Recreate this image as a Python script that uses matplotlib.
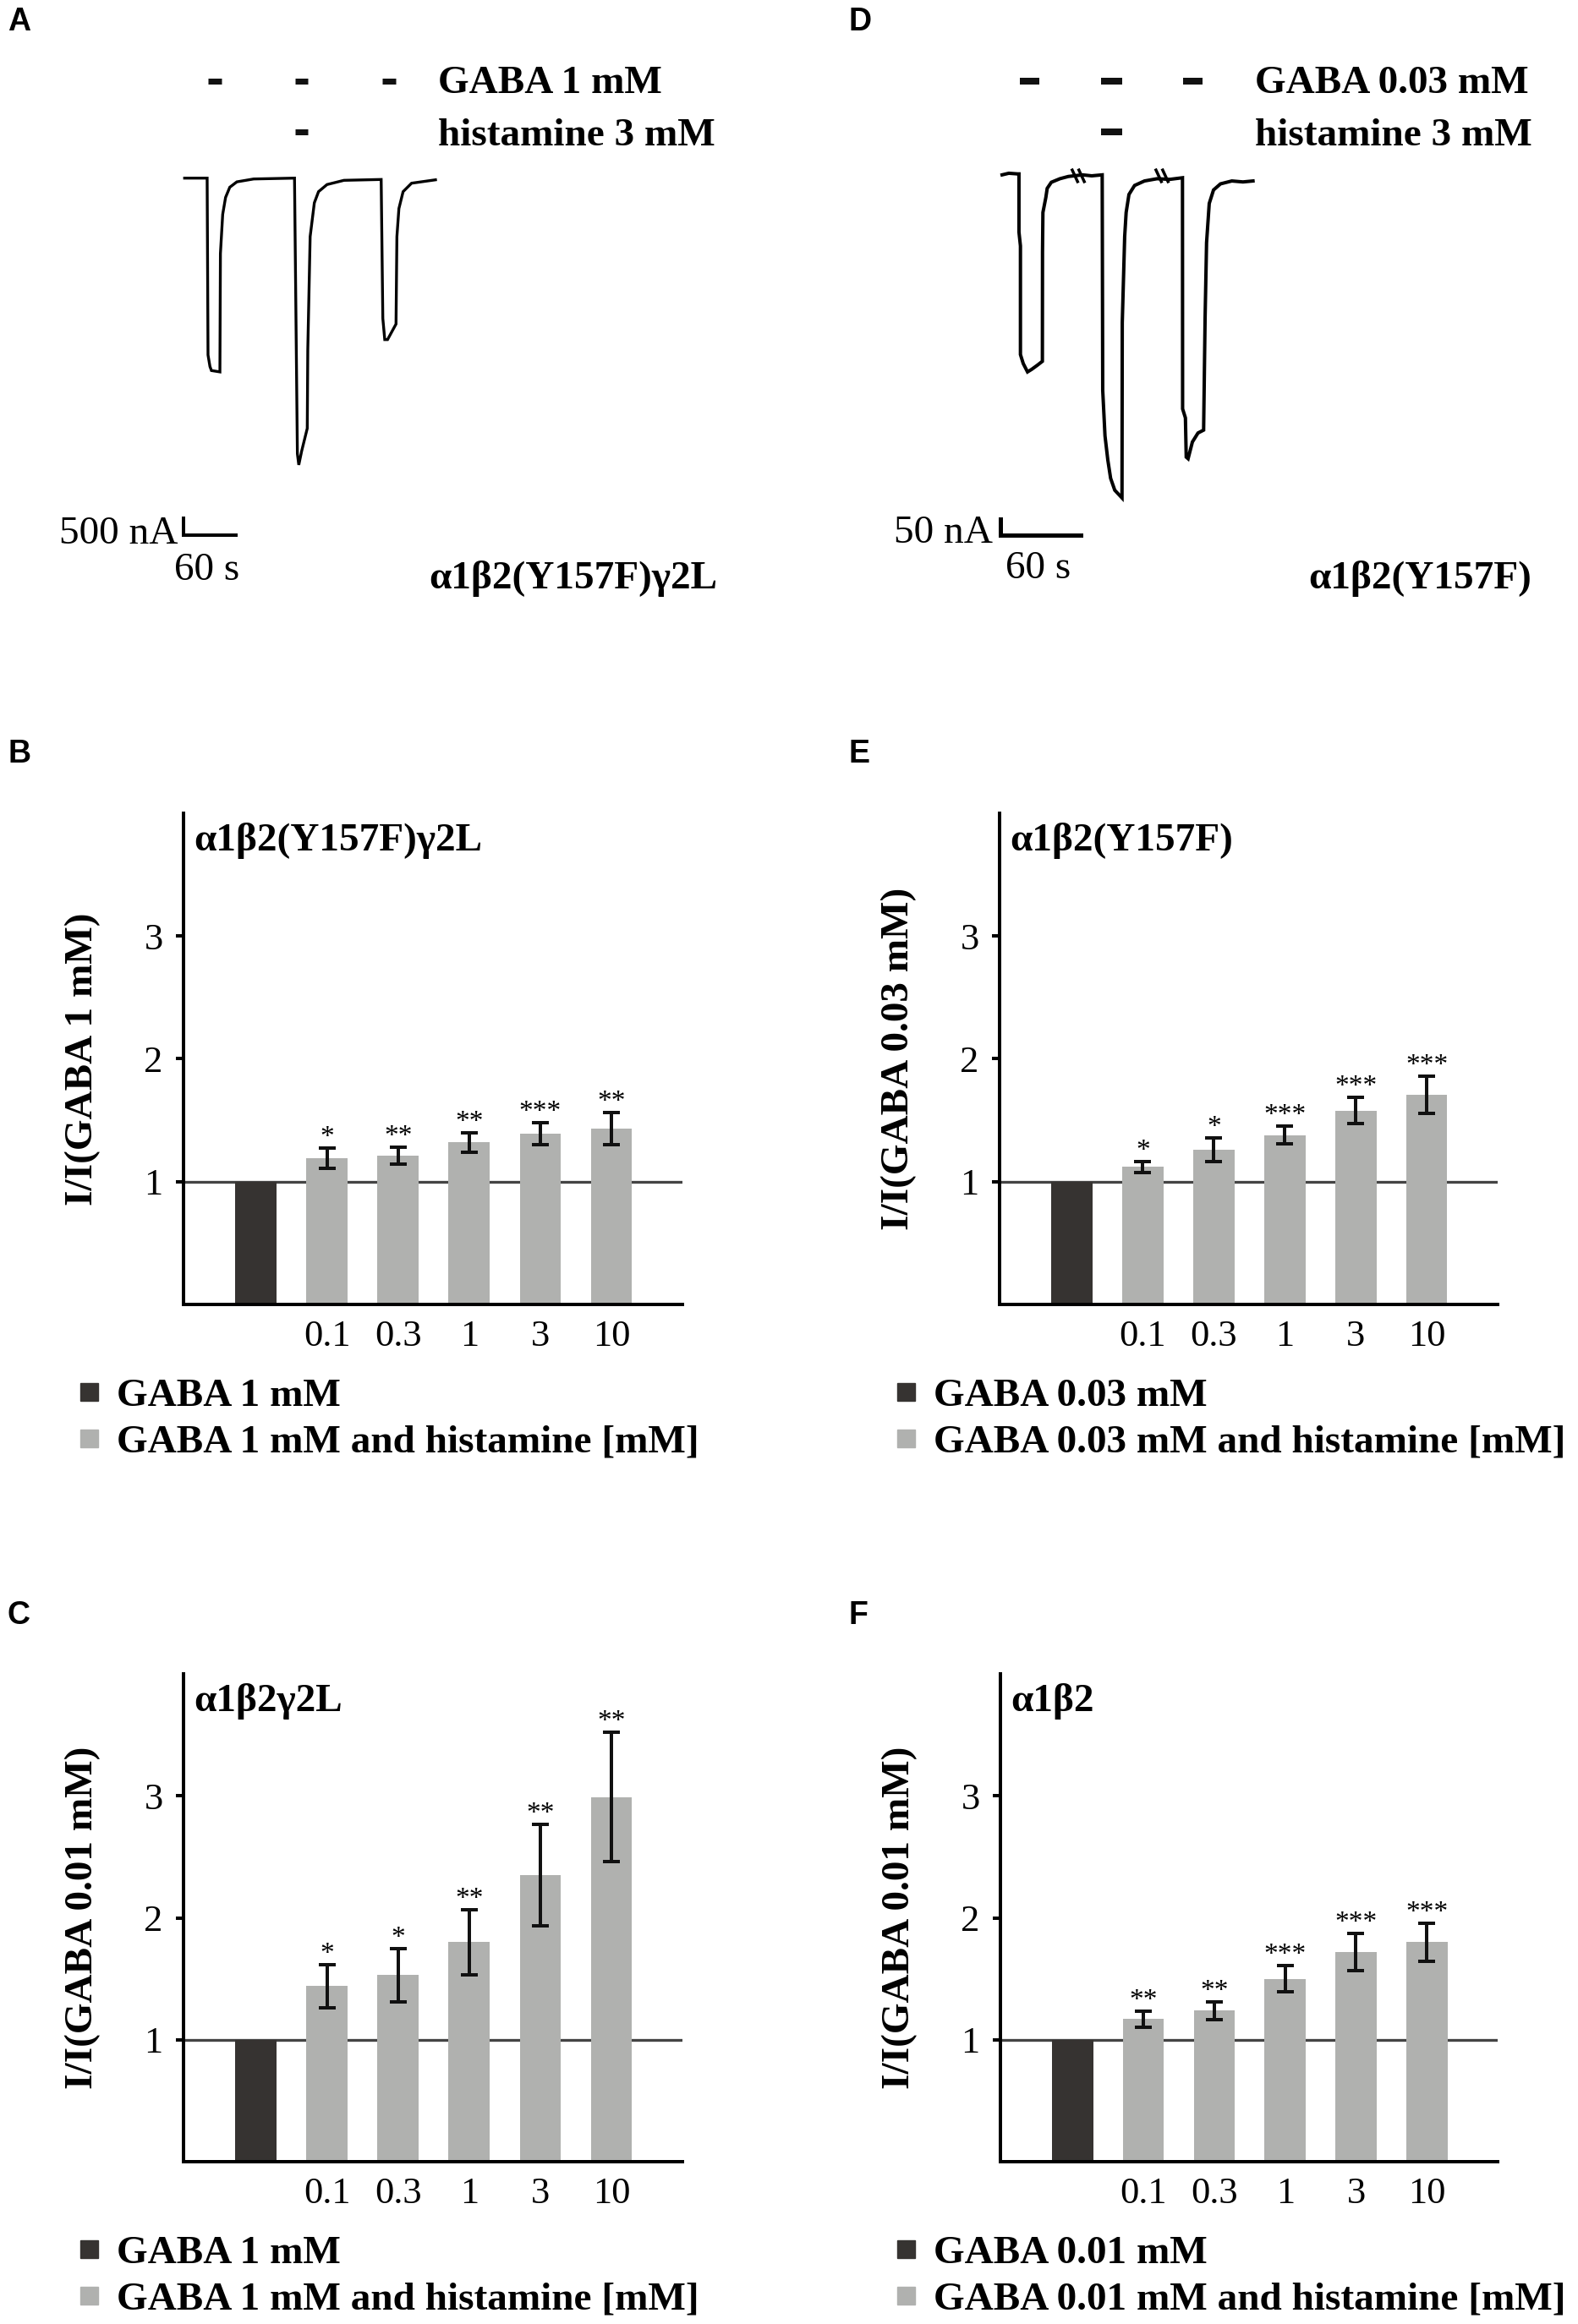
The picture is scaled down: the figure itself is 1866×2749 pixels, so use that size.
import matplotlib
matplotlib.use("Agg")
import matplotlib.pyplot as plt
import numpy as np
from matplotlib.patches import Rectangle

plt.rcParams['font.family'] = ['Liberation Serif', 'DejaVu Serif']

# ---------------- data ----------------
# trace A: alpha1beta2(Y157F)gamma2L, time (s) / current (nA)
trace_a_t = [0, 25.8, 26.8, 29.0, 30.7, 40.4, 41.0, 43.6, 46.9, 51.7, 59.8, 79.1,
             125.8, 129.1, 130.7, 134.0, 140.4, 141.0, 143.7, 148.5, 153.3, 163.0, 182.4,
             225.0, 226.9, 229.1, 232.3, 242.0, 243.0, 245.3, 250.1, 259.8, 287.2]
trace_a_i = [0, 0, -5230, -5570, -5690, -5730, -2230, -1070, -570, -270, -110, -25,
             0, -8150, -8480, -8070, -7400, -5070, -1730, -730, -400, -190, -65,
             -40, -4150, -4775, -4775, -4315, -1730, -900, -400, -150, -50]
trace_a_gaba = [(26.8, 42.3), (126.5, 141.0), (226.2, 241.7)]
trace_a_hist = [(126.5, 141.0)]

# trace D: alpha1beta2(Y157F)
trace_d_t = [0, 5.0, 11.6, 12.6, 12.6, 13.7, 13.7, 15.8, 19.0, 22.1, 26.4, 30.1,
             30.2, 30.5, 32.7, 33.7, 36.8, 43.2, 49.5, 60.0, 67.0, 74.8,
             75.2, 76.9, 79.0, 81.1, 84.2, 89.6, 89.8, 91.6, 92.7, 94.8, 99.0, 106.4, 115.8,
             125.3, 134.8, 134.9, 137.0, 137.6, 139.0, 142.2, 146.4, 150.6,
             151.7, 152.8, 154.8, 158.0, 163.2, 171.7, 180.0, 187.5]
trace_d_i = [-3, 2, 0, 0, -181, -224, -562, -590, -616, -608, -595, -583,
             -242, -120, -73, -45, -26, -15, -8, -3, -6, -3,
             -674, -815, -890, -947, -984, -1008, -463, -195, -120, -64, -36, -22, -15,
             -17, -12, -731, -759, -881, -886, -834, -806, -797,
             -449, -214, -92, -50, -31, -22, -25, -22]
trace_d_gaba = [(13.3, 27.8), (74.0, 89.7), (135.2, 149.8)]
trace_d_hist = [(74.0, 89.7)]
trace_d_breaks = [56.9, 119.5]

conc_labels = ["0.1", "0.3", "1", "3", "10"]
control_value = 1.0

b_means = [1.19, 1.21, 1.32, 1.39, 1.43]
b_err = [0.085, 0.07, 0.08, 0.087, 0.13]
b_stars = ["*", "**", "**", "***", "**"]

c_means = [1.44, 1.53, 1.80, 2.35, 2.99]
c_err = [0.176, 0.22, 0.265, 0.413, 0.53]
c_stars = ["*", "*", "**", "**", "**"]

e_means = [1.12, 1.26, 1.38, 1.58, 1.71]
e_err = [0.045, 0.097, 0.07, 0.107, 0.152]
e_stars = ["*", "*", "***", "***", "***"]

f_means = [1.17, 1.24, 1.50, 1.72, 1.80]
f_err = [0.067, 0.073, 0.109, 0.154, 0.158]
f_stars = ["**", "**", "***", "***", "***"]

# ---------------- layout helpers ----------------
W, H = 1866, 2749
fig = plt.figure(figsize=(W / 100, H / 100), dpi=100)
PX = 72 / 100  # points per pixel

DARK = "#363331"
GREY = "#b0b1af"
FS = 34


def fx(p):
    return p / W


def fy(p):
    return 1 - p / H


def axes_px(left, top, right, bottom):
    return fig.add_axes([fx(left), fy(bottom), (right - left) / W, (bottom - top) / H])


def letter(s, x, y):
    fig.text(fx(x), fy(y), s, fontsize=27, fontweight="bold",
             family=["Liberation Sans", "DejaVu Sans"], va="baseline", ha="left")


def trace_panel(box, t0_px, base_px, s_per_px, na_per_px, t, i, gaba, hist,
                gaba_y, hist_y, bar_corner, dash_h, lw):
    left, top, right, bottom = box
    ax = axes_px(left, top, right, bottom)
    ax.set_xlim((left - t0_px) * s_per_px, (right - t0_px) * s_per_px)
    ax.set_ylim(-(bottom - base_px) * na_per_px, -(top - base_px) * na_per_px)
    ax.axis("off")
    ax.plot(t, i, color="black", lw=lw, solid_joinstyle="miter")
    gy = -(gaba_y - base_px) * na_per_px
    hy = -(hist_y - base_px) * na_per_px
    for a, b in gaba:
        ax.plot([a, b], [gy, gy], color="#111111", lw=dash_h * PX, solid_capstyle="butt")
    for a, b in hist:
        ax.plot([a, b], [hy, hy], color="#111111", lw=dash_h * PX, solid_capstyle="butt")
    # scale bar corner in data units
    cx = (bar_corner[0] - t0_px) * s_per_px
    cy = -(bar_corner[1] - base_px) * na_per_px
    return ax, cx, cy


# ---------------- trace A ----------------
ax_a, cxa, cya = trace_panel((150, 60, 900, 720), 218.3, 210.7, 0.968, 25.0,
                             trace_a_t, trace_a_i, trace_a_gaba, trace_a_hist,
                             96, 156, (217, 633), 7, 2.4)
ax_a.plot([cxa, cxa, cxa + 60], [cya + 500, cya, cya], color="black", lw=4 * PX,
          solid_joinstyle="miter")
fig.text(fx(518), fy(110), "GABA 1 mM", fontsize=FS, fontweight="bold", va="baseline")
fig.text(fx(518), fy(172), "histamine 3 mM", fontsize=FS, fontweight="bold", va="baseline")
fig.text(fx(211), fy(643), "500 nA", fontsize=FS, ha="right", va="baseline")
fig.text(fx(245), fy(686), "60 s", fontsize=FS, ha="center", va="baseline")
fig.text(fx(848), fy(696), "α1β2(Y157F)γ2L", fontsize=FS, fontweight="bold",
         ha="right", va="baseline")

# ---------------- trace D ----------------
ax_d, cxd, cyd = trace_panel((1100, 60, 1866, 720), 1185, 205.7, 0.632, 2.63,
                             trace_d_t, trace_d_i, trace_d_gaba, trace_d_hist,
                             96, 156, (1183, 633), 8, 2.9)
ax_d.plot([cxd, cxd, cxd + 60], [cyd + 50, cyd, cyd], color="black", lw=5 * PX,
          solid_joinstyle="miter")
for bc in trace_d_breaks:
    for off in (-2.5, 2.5):
        ax_d.plot([bc + off - 2.0, bc + off + 2.0], [12, -24], color="black", lw=3.5 * PX)
fig.text(fx(1484), fy(110), "GABA 0.03 mM", fontsize=FS, fontweight="bold", va="baseline")
fig.text(fx(1484), fy(172), "histamine 3 mM", fontsize=FS, fontweight="bold", va="baseline")
fig.text(fx(1174), fy(642), "50 nA", fontsize=FS, ha="right", va="baseline")
fig.text(fx(1228), fy(684), "60 s", fontsize=FS, ha="center", va="baseline")
fig.text(fx(1811), fy(696), "α1β2(Y157F)", fontsize=FS, fontweight="bold",
         ha="right", va="baseline")


# ---------------- bar panels ----------------
def bar_panel(box, means, errs, stars, title, ylabel, legend_labels, legend_x):
    left, top, right, bottom = box
    ax = axes_px(left, top, right, bottom)
    x = np.arange(len(means) + 1)
    ax.axhline(1, color="#444444", lw=3.3 * PX, zorder=1)
    ax.bar(x[0], control_value, width=0.58, color=DARK, zorder=2)
    ax.bar(x[1:], means, width=0.58, color=GREY, zorder=2)
    ax.errorbar(x[1:], means, yerr=errs, fmt="none", ecolor="#111111",
                elinewidth=4 * PX, capsize=10.3 * PX, capthick=4 * PX, zorder=3)
    for xi, m, e, s in zip(x[1:], means, errs, stars):
        ax.annotate(s, (xi, m + e), xytext=(0, 4 * PX), textcoords="offset points",
                    ha="center", va="baseline", fontsize=24)
    ax.set_xlim(-1.02, 6.0)
    ax.set_ylim(0, 4)
    for sp in ("top", "right"):
        ax.spines[sp].set_visible(False)
    for sp in ("left", "bottom"):
        ax.spines[sp].set_linewidth(4 * PX)
        ax.spines[sp].set_color("black")
    ax.set_yticks([1, 2, 3])
    ax.set_yticklabels(["1", "2", "3"])
    ax.set_xticks(x[1:])
    ax.set_xticklabels(conc_labels)
    ax.tick_params(axis="y", length=9 * PX, width=4 * PX, direction="out",
                   pad=11, labelsize=32)
    ax.tick_params(axis="x", length=0, pad=13, labelsize=32)
    fig.text(fx(left + 12), fy(top + 44), title, fontsize=FS, fontweight="bold",
             va="baseline", ha="left")
    fig.text(fx(left - 119), fy((top + bottom) / 2), ylabel, fontsize=FS,
             fontweight="bold", rotation=90, ha="center", va="center")
    for k, (lab, col) in enumerate(zip(legend_labels, [DARK, GREY])):
        base = bottom + 120 + 55 * k
        fig.add_artist(Rectangle((fx(legend_x), fy(base - 6)), 21 / W, 21 / H,
                                 transform=fig.transFigure, color=col))
        fig.text(fx(legend_x + 43), fy(base), lab, fontsize=FS, fontweight="bold",
                 va="baseline", ha="left")
    return ax


bar_panel((217, 962, 807, 1543), b_means, b_err, b_stars, "α1β2(Y157F)γ2L",
          "I/I(GABA 1 mM)", ["GABA 1 mM", "GABA 1 mM and histamine [mM]"], 95)
bar_panel((217, 1980, 807, 2557), c_means, c_err, c_stars, "α1β2γ2L",
          "I/I(GABA 0.01 mM)", ["GABA 1 mM", "GABA 1 mM and histamine [mM]"], 95)
bar_panel((1182, 962, 1771, 1543), e_means, e_err, e_stars, "α1β2(Y157F)",
          "I/I(GABA 0.03 mM)", ["GABA 0.03 mM", "GABA 0.03 mM and histamine [mM]"], 1061)
bar_panel((1183, 1980, 1771, 2557), f_means, f_err, f_stars, "α1β2",
          "I/I(GABA 0.01 mM)", ["GABA 0.01 mM", "GABA 0.01 mM and histamine [mM]"], 1061)

letter("A", 9, 36)
letter("B", 9, 902)
letter("C", 9, 1921)
letter("D", 1003, 36)
letter("E", 1004, 902)
letter("F", 1004, 1921)

fig.savefig("out.png", dpi=100)
